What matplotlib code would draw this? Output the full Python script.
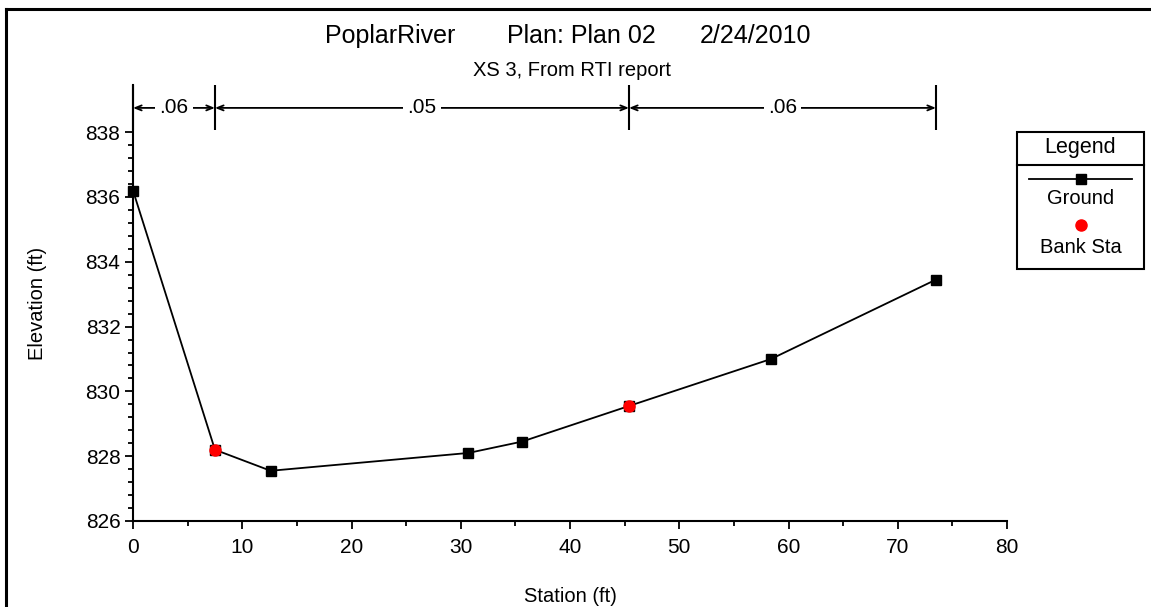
import matplotlib.pyplot as plt
from matplotlib.ticker import FixedLocator, MultipleLocator
from matplotlib.patches import Rectangle
from matplotlib.lines import Line2D

plt.rcParams['font.family'] = ['Liberation Sans', 'DejaVu Sans']

# ground profile, XS 3
station = [0, 7.5, 12.6, 30.7, 35.6, 45.4, 58.4, 73.5]
elevation = [836.2, 828.2, 827.55, 828.1, 828.45, 829.55, 831.0, 833.45]

# bank stations
bank_sta = [7.5, 45.4]
bank_elev = [828.2, 829.55]

# manning's n segments
n_bounds = [0, 7.5, 45.4, 73.5]
n_values = ['.06', '.05', '.06']

W, H = 1151, 607
fig = plt.figure(figsize=(W / 100, H / 100), dpi=100)
ax = fig.add_axes([133 / W, 1 - 521 / H, (1007 - 133) / W, (521 - 85) / H])

ax.plot(station, elevation, color='black', lw=1.3, marker='s', ms=7,
        mfc='black', mec='black', zorder=3, clip_on=False)
ax.plot(bank_sta, bank_elev, 'o', color='red', ms=8, zorder=4, clip_on=False)

ax.set_xlim(0, 80)
ax.set_ylim(826, 826 + 436 / 32.4)
ax.set_xticks(range(0, 81, 10))
ax.xaxis.set_minor_locator(MultipleLocator(5))
ax.yaxis.set_major_locator(FixedLocator(range(826, 839, 2)))
ax.yaxis.set_minor_locator(FixedLocator([826 + 0.4 * i for i in range(31)]))
ax.tick_params(which='major', direction='out', length=6, width=1.3, labelsize=15, pad=3)
ax.tick_params(axis='x', which='major', pad=6)
ax.tick_params(which='minor', direction='out', length=3.5, width=1.3)
for s in ['top', 'right']:
    ax.spines[s].set_visible(False)
for s in ['left', 'bottom']:
    ax.spines[s].set_linewidth(1.5)

ax.set_xlabel('Station (ft)', fontsize=14.5, labelpad=22)
ax.set_ylabel('Elevation (ft)', fontsize=14.5, labelpad=28)

# n value bracket
yb = 838.75
ax.vlines(n_bounds, 838.07, 826 + 436 / 32.4, color='black', lw=1.5, clip_on=False)
for i, nv in enumerate(n_values):
    x0, x1 = n_bounds[i], n_bounds[i + 1]
    ax.annotate('', xy=(x0, yb), xytext=(x1, yb),
                arrowprops=dict(arrowstyle='<->,head_length=0.45,head_width=0.18',
                                lw=1.3, color='black', shrinkA=0, shrinkB=0),
                annotation_clip=False)
    ax.text((x0 + x1) / 2, yb, nv, ha='center', va='center', fontsize=15,
            bbox=dict(facecolor='white', edgecolor='none', pad=3))

# titles
fig.text(390 / W, 1 - 36 / H, 'PoplarRiver', ha='center', va='center', fontsize=18)
fig.text(581 / W, 1 - 36 / H, 'Plan: Plan 02', ha='center', va='center', fontsize=18)
fig.text(755 / W, 1 - 36 / H, '2/24/2010', ha='center', va='center', fontsize=18)
fig.text(572 / W, 1 - 70 / H, 'XS 3, From RTI report', ha='center', va='center', fontsize=14.5)

# legend box
lax = fig.add_axes([1017 / W, 1 - 269 / H, 127 / W, 137 / H])
lax.set_xlim(0, 1)
lax.set_ylim(0, 1)
lax.axis('off')
lax.add_patch(Rectangle((0, 0), 1, 1, fill=False, lw=1.5, ec='black', clip_on=False))
lax.plot([0, 1], [0.759, 0.759], color='black', lw=1.5, clip_on=False)
lax.text(0.5, 0.89, 'Legend', ha='center', va='center', fontsize=15.5)
lax.plot([0.094, 0.906], [0.657, 0.657], color='black', lw=1.3)
lax.plot([0.5], [0.657], 's', color='black', ms=7)
lax.text(0.5, 0.511, 'Ground', ha='center', va='center', fontsize=14.5)
lax.plot([0.5], [0.321], 'o', color='red', ms=8)
lax.text(0.5, 0.16, 'Bank Sta', ha='center', va='center', fontsize=14.5)

# outer frame
fig.add_artist(Line2D([5.5 / W, 5.5 / W], [0, 1 - 9 / H], color='black', lw=2.2))
fig.add_artist(Line2D([5.5 / W, 1], [1 - 9 / H, 1 - 9 / H], color='black', lw=2.2))

fig.savefig('out.png', dpi=100)
